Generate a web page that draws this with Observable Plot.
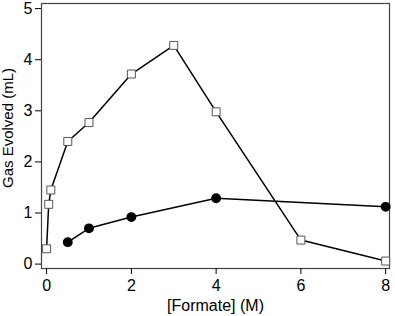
<!DOCTYPE html>
<html><head><meta charset="utf-8">
<script src="https://cdn.jsdelivr.net/npm/d3@7"></script>
<script src="https://cdn.jsdelivr.net/npm/@observablehq/plot@0.6"></script>
<style>body{margin:0;background:#fff}</style>
</head><body><div id="chart"></div>
<script>
const squareX = [0, 0.05, 0.1, 0.5, 1, 2, 3, 4, 6, 8];
const squareY = [0.30, 1.17, 1.45, 2.40, 2.77, 3.72, 4.28, 2.98, 0.47, 0.06];
const circleX = [0.5, 1, 2, 4, 8];
const circleY = [0.43, 0.70, 0.92, 1.29, 1.12];
const xTicks = [0, 2, 4, 6, 8];
const yTicks = [0, 1, 2, 3, 4, 5];
const yLabel = "Gas Evolved (mL)";
const xLabel = "[Formate] (M)";

const sq = squareX.map((x, i) => ({x, y: squareY[i]}));
const ci = circleX.map((x, i) => ({x, y: circleY[i]}));

const chart = Plot.plot({
  width: 395, height: 316,
  marginLeft: 41, marginTop: 3, marginRight: 6, marginBottom: 48,
  style: {fontFamily: "Liberation Sans, Arial, sans-serif", fontSize: "16px", color: "#000", background: "#fff"},
  x: {domain: [-0.12, 8.09]},
  y: {domain: [-0.086, 5.10]},
  marks: [
    Plot.frame({stroke: "#444", strokeWidth: 1.2}),
    Plot.axisX({ticks: xTicks, tickFormat: "d", tickSize: 6, tickPadding: 5, fontSize: 16, label: xLabel, labelAnchor: "center", labelArrow: "none", labelOffset: 42}),
    Plot.axisY({ticks: yTicks, tickFormat: "d", tickSize: 6, tickPadding: 3, fontSize: 16, label: null}),
    Plot.text([yLabel], {frameAnchor: "left", text: d => d, rotate: -90, dx: -33, dy: -8, fontSize: 15, textAnchor: "middle", lineAnchor: "middle", fill: "#000"}),
    Plot.line(sq, {x: "x", y: "y", stroke: "#000", strokeWidth: 1.5}),
    Plot.line(ci, {x: "x", y: "y", stroke: "#000", strokeWidth: 1.5}),
    Plot.dot(sq, {x: "x", y: "y", symbol: "square", r: 4.5, fill: "#fff", stroke: "#555", strokeWidth: 1}),
    Plot.dot(ci, {x: "x", y: "y", r: 4.2, fill: "#000", stroke: "#000"})
  ]
});
document.getElementById("chart").appendChild(chart);
</script>
</body></html>
